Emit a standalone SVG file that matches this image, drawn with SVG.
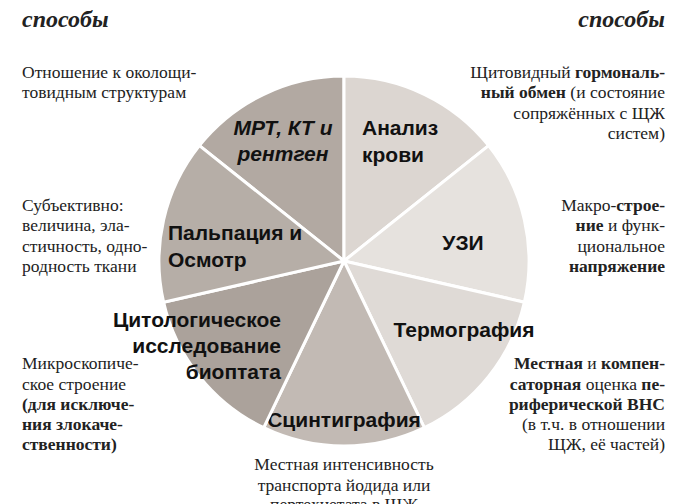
<svg xmlns="http://www.w3.org/2000/svg" width="696" height="504" viewBox="0 0 696 504">
<style>
.h{font-family:"Liberation Serif","Times New Roman","DejaVu Serif",serif;font-size:24px;font-weight:bold;font-style:italic;fill:#222}
.t{font-family:"Liberation Serif","Times New Roman","DejaVu Serif",serif;font-size:17.5px;fill:#222}
.r{text-anchor:end}
.c{text-anchor:middle}
.b{font-weight:bold}
.n{font-family:"Liberation Sans","Roboto",sans-serif;font-size:21px;font-weight:bold;fill:#111}
.s{stroke:#fff;stroke-width:3}
</style>
<rect width="696" height="504" fill="#fff"/>
<text class="h" x="22" y="27">способы</text>
<text class="h r" x="665" y="27">способы</text>
<g id="connectors"></g>
<g id="pie">
<g id="mrt"><path class="s" d="M344,261 L344,76 A185,185 0 0 0 199.4,145.6 Z" fill="#b2a9a2"/><text class="n c" x="283" y="135" font-style="italic">МРТ, КТ и</text><text class="n c" x="283" y="161" font-style="italic">рентген</text></g>
<g id="blood"><path class="s" d="M344,261 L344,76 A185,185 0 0 1 488.6,145.6 Z" fill="#dcd6d1"/><text class="n" x="362" y="135">Анализ</text><text class="n" x="362" y="162">крови</text></g>
<g id="uzi"><path class="s" d="M344,261 L488.6,145.6 A185,185 0 0 1 524.4,302.2 Z" fill="#e6e2de"/><text class="n c" x="463" y="250">УЗИ</text></g>
<g id="thermo"><path class="s" d="M344,261 L524.4,302.2 A185,185 0 0 1 424.3,427.7 Z" fill="#dfdad6"/><text class="n c" x="464" y="337">Термография</text></g>
<g id="scinti"><path class="s" d="M344,261 L424.3,427.7 A185,185 0 0 1 263.7,427.7 Z" fill="#c2bab4"/><text class="n c" x="344" y="427">Сцинтиграфия</text></g>
<g id="cyto"><path class="s" d="M344,261 L263.7,427.7 A185,185 0 0 1 163.6,302.2 Z" fill="#aba29b"/><text class="n r" x="281" y="327">Цитологическое</text><text class="n r" x="281" y="353">исследование</text><text class="n r" x="281" y="379">биоптата</text></g>
<g id="palp"><path class="s" d="M344,261 L163.6,302.2 A185,185 0 0 1 199.4,145.6 Z" fill="#b6aea7"/><text class="n" x="168" y="240">Пальпация и</text><text class="n" x="168" y="267">Осмотр</text></g>
</g>
<g id="left">
<text class="t" x="22" y="78">Отношение к околощи-</text>
<text class="t" x="22" y="98">товидным структурам</text>
<text class="t" x="22" y="211">Субъективно:</text>
<text class="t" x="22" y="231">величина, эла-</text>
<text class="t" x="22" y="252">стичность, одно-</text>
<text class="t" x="22" y="272">родность ткани</text>
<text class="t" x="22" y="369">Микроскопиче-</text>
<text class="t" x="22" y="390">ское строение</text>
<text class="t b" x="22" y="410">(для исключе-</text>
<text class="t b" x="22" y="430">ния злокаче-</text>
<text class="t b" x="22" y="450">ственности)</text>
</g>
<g id="right">
<text class="t r" x="665" y="78">Щитовидный <tspan class="b">гормональ-</tspan></text>
<text class="t r" x="665" y="98"><tspan class="b">ный обмен</tspan> (и состояние</text>
<text class="t r" x="665" y="119">сопряжённых с ЩЖ</text>
<text class="t r" x="665" y="139">систем)</text>
<text class="t r" x="665" y="211">Макро-<tspan class="b">строе-</tspan></text>
<text class="t r" x="665" y="231"><tspan class="b">ние</tspan> и функ-</text>
<text class="t r" x="665" y="252">циональное</text>
<text class="t r b" x="665" y="272">напряжение</text>
<text class="t r" x="665" y="369"><tspan class="b">Местная</tspan> и <tspan class="b">компен-</tspan></text>
<text class="t r" x="665" y="390"><tspan class="b">саторная</tspan> оценка <tspan class="b">пе-</tspan></text>
<text class="t r b" x="665" y="410">риферической ВНС</text>
<text class="t r" x="665" y="430">(в т.ч. в отношении</text>
<text class="t r" x="665" y="450">ЩЖ, её частей)</text>
</g>
<g id="bottom">
<text class="t c" x="344" y="470">Местная интенсивность</text>
<text class="t c" x="344" y="491">транспорта йодида или</text>
<text class="t c" x="344" y="510">пертехнетата в ЩЖ</text>
</g>
</svg>
